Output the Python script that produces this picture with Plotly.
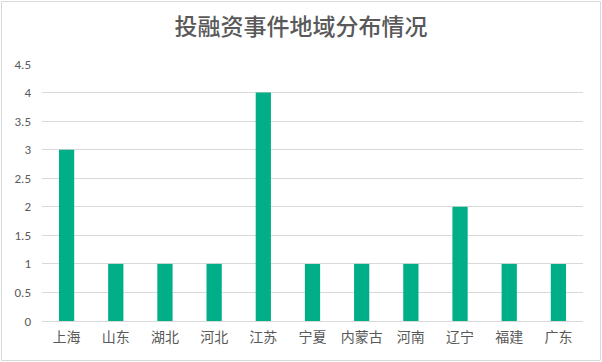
import plotly.graph_objects as go

categories = ["上海", "山东", "湖北", "河北", "江苏", "宁夏", "内蒙古", "河南", "辽宁", "福建", "广东"]
values = [3, 1, 1, 1, 4, 1, 1, 1, 2, 1, 1]
y_ticks = [0, 0.5, 1, 1.5, 2, 2.5, 3, 3.5, 4, 4.5]
y_tick_labels = ["0", "0.5", "1", "1.5", "2", "2.5", "3", "3.5", "4", "4.5"]

L, R, T, B = 42, 19, 64, 41
W, H = 602, 362
pw, ph = W - L - R, H - T - B

fig = go.Figure(go.Bar(x=categories, y=values, marker=dict(color="#00AE87", line=dict(width=0))))

fig.update_layout(
    width=W, height=H,
    margin=dict(l=L, r=R, t=T, b=B, autoexpand=False),
    paper_bgcolor="white", plot_bgcolor="white",
    bargap=0.69,
    showlegend=False,
    title=dict(text="投融资事件地域分布情况", x=0.5, xanchor="center", y=1 - 27 / H, yanchor="middle",
               font=dict(family="Noto Sans CJK SC", size=23, color="#595959", weight=500)),
    font=dict(family="Noto Sans CJK SC", color="#595959"),
    xaxis=dict(showgrid=False, ticks="", showline=False, automargin=False, ticklabelstandoff=6,
               tickfont=dict(size=14, color="#595959")),
    yaxis=dict(range=[0, 4.5], tickvals=y_ticks, ticktext=y_tick_labels, showgrid=True, gridcolor="#D9D9D9",
               gridwidth=1, zeroline=True, zerolinecolor="#D9D9D9", zerolinewidth=1, showline=False,
               automargin=False, ticks="", ticklabelstandoff=10,
               tickfont=dict(family="Carlito, Calibri, Liberation Sans", size=13, color="#595959")),
    shapes=[dict(type="rect", xref="paper", yref="paper",
                 x0=(1.5 - L) / pw, x1=(W - 1.5 - L) / pw,
                 y0=(H - B - 360.5) / ph, y1=(H - B - 1.5) / ph,
                 line=dict(color="#D9D9D9", width=1), fillcolor="rgba(0,0,0,0)", layer="below")],
)

fig.write_html("out.html", config={"displayModeBar": False}, post_script="document.body.style.margin='0';")
